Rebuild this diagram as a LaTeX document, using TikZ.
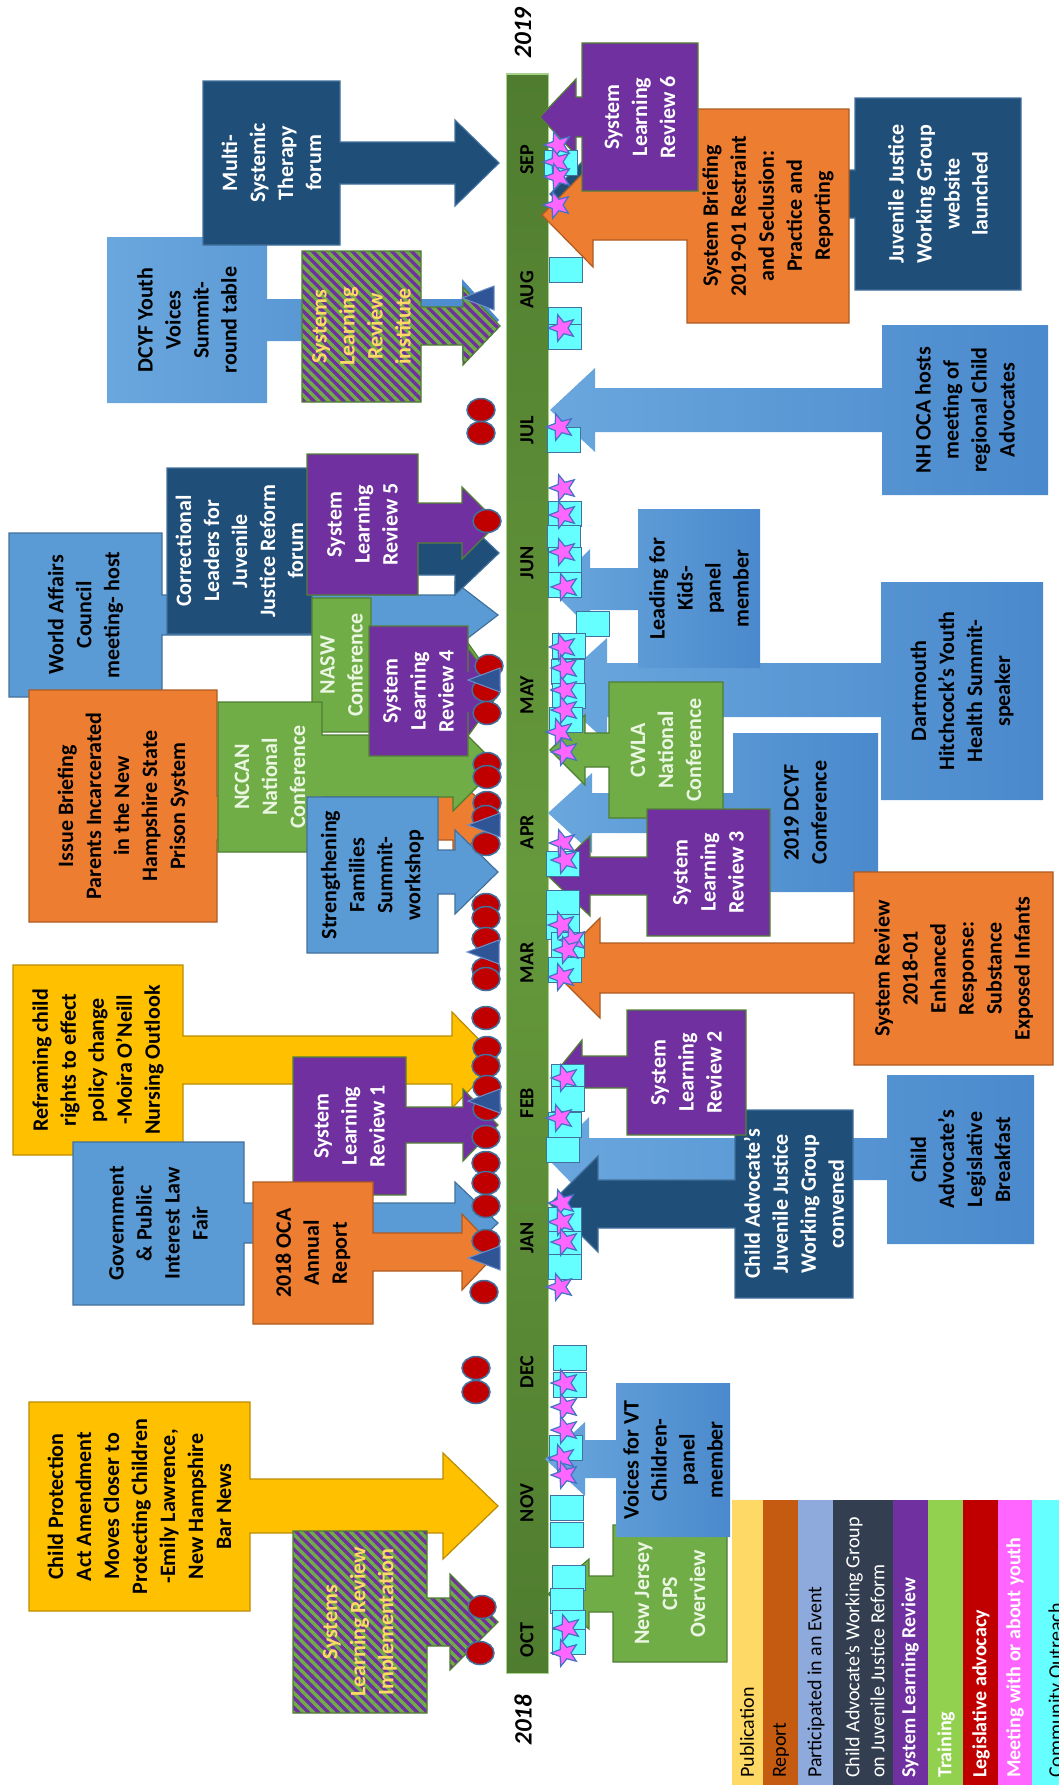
\documentclass[tikz,border=0pt]{standalone}
\usepackage{fontspec}
\setmainfont{Carlito}
\usetikzlibrary{patterns.meta}
\definecolor{cDkb}{HTML}{1F4E79}\definecolor{cDkbB}{HTML}{41719C}
\definecolor{cLtb}{HTML}{5B9BD5}\definecolor{cLtbB}{HTML}{41719C}
\definecolor{cLtgL}{HTML}{6AA7DE}\definecolor{cLtgR}{HTML}{4A89CC}
\definecolor{cPur}{HTML}{7030A0}\definecolor{cPurB}{HTML}{548235}
\definecolor{cGrn}{HTML}{70AD47}\definecolor{cGrnB}{HTML}{507E32}\definecolor{cGrnT}{HTML}{EAF6E2}
\definecolor{cOrg}{HTML}{ED7D31}\definecolor{cOrgB}{HTML}{AE5A21}
\definecolor{cYel}{HTML}{FFC000}\definecolor{cYelB}{HTML}{BC8C00}
\definecolor{cHatT}{HTML}{FFD966}
\definecolor{cBarA}{HTML}{4F7C2F}\definecolor{cBarB}{HTML}{66993C}\definecolor{cBarE}{HTML}{A9D18E}
\definecolor{cPub}{HTML}{FFD966}\definecolor{cRep}{HTML}{C55A11}\definecolor{cPar}{HTML}{8EA9DB}
\definecolor{cCaw}{HTML}{333F50}\definecolor{cTrn}{HTML}{92D050}\definecolor{cLeg}{HTML}{C00000}
\definecolor{cMty}{HTML}{FF66FF}\definecolor{cCy}{HTML}{66FFFF}
\definecolor{cMkB}{HTML}{41719C}\definecolor{cStB}{HTML}{4472C4}
\definecolor{cTri}{HTML}{2F5597}\definecolor{cTriB}{HTML}{6F8FC9}

\newcommand\ARset[5]{\def\ayc{#1}\def\ash{#2}\def\axb{#3}\def\ahh{#4}\def\axt{#5}}
\newcommand\CalR[7]{%
  \path[#1] (#2,#3) -- (#4,#3) -- (#4,\ayc-\ash) -- (\axb,\ayc-\ash) -- (\axb,\ayc-\ahh) -- (\axt,\ayc) -- (\axb,\ayc+\ahh) -- (\axb,\ayc+\ash) -- (#4,\ayc+\ash) -- (#4,#5) -- (#2,#5) -- cycle;
  \node[txt,#1-t] (#6) at ({(#2+#4)/2},{(#3+#5)/2}) {#7};}
\newcommand\CalL[7]{%
  \path[#1] (#2,#3) -- (#4,#3) -- (#4,#5) -- (#2,#5) -- (#2,\ayc+\ash) -- (\axb,\ayc+\ash) -- (\axb,\ayc+\ahh) -- (\axt,\ayc) -- (\axb,\ayc-\ahh) -- (\axb,\ayc-\ash) -- (#2,\ayc-\ash) -- cycle;
  \node[txt,#1-t] (#6) at ({(#2+#4)/2},{(#3+#5)/2}) {#7};}
\newcommand\mkSq[2]{\filldraw[mksq] (#1-16.5,#2-12.5) rectangle (#1+16.5,#2+12.5);}
\newcommand\mkSt[2]{\filldraw[mkst,shift={(#1,#2)}] (180:14) -- (216:6) -- (252:14) -- (288:6) -- (324:14) -- (0:6) -- (36:14) -- (72:6) -- (108:14) -- (144:6) -- cycle;}
\newcommand\mkEl[2]{\filldraw[mkel] (#1,#2) ellipse [x radius=14, y radius=11.5];}
\newcommand\mkTri[2]{\filldraw[mktri] (#1,#2) -- (#1+32,#2-12) -- (#1+32,#2+12) -- cycle;}

\begin{document}
\begin{tikzpicture}[x=1pt,y=-1pt,
  txt/.style={rotate=90,align=center,inner sep=0pt,font=\fontsize{22}{28}\selectfont\bfseries},
  sDkb/.style={fill=cDkb,draw=cDkbB,line width=1.2pt}, sDkb-t/.style={text=white},
  sLtb/.style={fill=cLtb,draw=cLtbB,line width=1.2pt}, sLtb-t/.style={text=black},
  sLtg/.style={left color=cLtgL,right color=cLtgR}, sLtg-t/.style={text=black},
  sPur/.style={fill=cPur,draw=cPurB,line width=1.2pt}, sPur-t/.style={text=white},
  sGrn/.style={fill=cGrn,draw=cGrnB,line width=1.2pt}, sGrn-t/.style={text=cGrnT},
  sOrg/.style={fill=cOrg,draw=cOrgB,line width=1.2pt}, sOrg-t/.style={text=black},
  sYel/.style={fill=cYel,draw=cYelB,line width=1.2pt}, sYel-t/.style={text=black},
  sHat/.style={preaction={fill=cPur},pattern={Lines[angle=-45,distance=7pt,line width=3.4pt]},pattern color=cGrn,draw=cGrnB,line width=1.2pt},
  sHat-t/.style={text=cHatT},
  mksq/.style={fill=cCy,draw=cMkB,line width=1.3pt},
  mkst/.style={fill=cMty,draw=cStB,line width=1.2pt},
  mkel/.style={fill=cLeg,draw=cMkB,line width=1.5pt},
  mktri/.style={fill=cTri,draw=cTriB,line width=1pt},
  mon/.style={rotate=90,inner sep=0pt,font=\fontsize{20}{24}\selectfont\bfseries},
  yr/.style={rotate=90,inner sep=0pt,font=\fontsize{25}{30}\selectfont\bfseries\itshape},
  leg/.style={rotate=90,anchor=west,align=left,inner sep=0pt,font=\fontsize{20}{25}\selectfont}]
\useasboundingbox (0,0) rectangle (1059,1785);
\clip (0,0) rectangle (1059,1785);

% timeline bar
\node[draw=cBarE,line width=1pt,top color=cBarA,bottom color=cBarA,middle color=cBarB,
      minimum width=42pt,minimum height=1599pt,inner sep=0pt] (bar) at (527,873.5) {};

% ---------- left side callouts ----------
\ARset{320}{21}{462}{41}{499}\CalR{sLtg}{107}{237}{267}{403}{dcyf}{DCYF Youth\\Voices\\Summit-\\round table}
\ARset{163}{21}{455}{43}{499}\CalR{sDkb}{203}{81}{340}{245}{mst}{Multi-\\Systemic\\Therapy\\forum}
\ARset{326}{19}{463}{39}{500}\CalR{sHat}{302}{251}{421}{402}{slri}{Systems\\Learning\\Review\\institute}
\ARset{615}{20}{455}{33}{498}\CalR{sLtb}{9}{533}{162}{697}{wac}{World Affairs\\Council\\meeting- host}
\ARset{818}{22}{453}{42}{500}\CalR{sOrg}{29}{690}{217}{922}{ib}{Issue Briefing\\Parents Incarcerated\\in the New\\Hampshire State\\Prison System}
\ARset{553}{22}{455}{42}{499}\CalR{sDkb}{167}{468}{312}{634}{clj}{Correctional\\Leaders for\\Juvenile\\Justice Reform\\forum}
\ARset{688}{18}{468}{45}{500}\CalR{sGrn}{312}{598}{371}{732}{nasw}{NASW\\Conference}
\ARset{766}{31}{453}{45}{498}\CalR{sGrn}{218}{702}{322}{852}{nccan}{NCCAN\\National\\Conference}
\ARset{872}{22}{455}{42}{498}\CalR{sLtb}{307}{797}{438}{953}{sfs}{Strengthening\\Families\\Summit-\\workshop}
\ARset{523}{20}{462}{36}{498}\CalR{sPur}{307}{454}{418}{595}{slr5}{System\\Learning\\Review 5}
\ARset{692}{20}{468}{44}{500}\CalR{sPur}{369}{626}{468}{756}{slr4}{System\\Learning\\Review 4}
\ARset{1060}{24}{452}{48}{499}\CalR{sYel}{13}{965}{183}{1155}{rcr}{Reframing child\\rights to effect\\policy change\\-Moira O’Neill\\Nursing Outlook}
\ARset{1125}{18}{463}{36}{498}\CalR{sPur}{293}{1057}{406}{1195}{slr1}{System\\Learning\\Review 1}
\ARset{1223}{20}{455}{41}{498}\CalR{sLtb}{73}{1142}{244}{1305}{gov}{Government\\\& Public\\Interest Law\\Fair}
\ARset{1252}{19}{462}{38}{498}\CalR{sOrg}{253}{1182}{373}{1324}{oca}{2018 OCA\\Annual\\Report}
\ARset{1506}{27}{443}{53}{498}\CalR{sYel}{29}{1402}{250}{1611}{cpa}{Child Protection\\Act Amendment\\Moves Closer to\\Protecting Children\\-Emily Lawrence,\\New Hampshire\\Bar News}
\ARset{1622}{24}{450}{48}{498}\CalR{sHat}{293}{1531}{427}{1713}{slrimp}{Systems\\Learning Review\\Implementation}

% ---------- right side callouts ----------
\ARset{194}{24}{590}{40}{550}\CalL{sDkb}{855}{98}{1021}{290}{jjweb}{Juvenile Justice\\Working Group\\website\\launched}
\ARset{215}{25}{593}{52}{542}\CalL{sOrg}{687}{109}{849}{323}{sb}{System Briefing\\2019-01 Restraint\\and Seclusion:\\Practice and\\Reporting}
\ARset{117}{20}{576}{38}{540}\CalL{sPur}{582}{43}{698}{191}{slr6}{System\\Learning\\Review 6}
\ARset{410}{22}{595}{42}{550}\CalL{sLtg}{882}{325}{1048}{495}{nhoca}{NH OCA hosts\\meeting of\\regional Child\\Advocates}
\ARset{690}{27}{607}{52}{550}\CalL{sLtg}{881}{582}{1043}{800}{dhys}{Dartmouth\\Hitchcock’s Youth\\Health Summit-\\speaker}
\ARset{589}{21}{590}{40}{550}\CalL{sLtg}{638}{509}{760}{668}{lfk}{Leading for\\Kids-\\panel\\member}
\ARset{813}{20}{592}{40}{548}\CalL{sLtg}{733}{733}{878}{892}{dcyfc}{2019 DCYF\\Conference}
\ARset{750}{17}{585}{35}{550}\CalL{sGrn}{609}{682}{723}{818}{cwla}{CWLA\\National\\Conference}
\ARset{876}{19}{590}{40}{548}\CalL{sPur}{647}{809}{770}{936}{slr3}{System\\Learning\\Review 3}
\ARset{968}{25}{600}{50}{550}\CalL{sOrg}{854}{872}{1053}{1065}{sr}{System Review\\2018-01\\Enhanced\\Response:\\Substance\\Exposed Infants}
\ARset{1159}{21}{589}{42}{548}\CalL{sLtg}{887}{1075}{1034}{1244}{clb}{Child\\Advocate’s\\Legislative\\Breakfast}
\ARset{1204}{24}{598}{48}{550}\CalL{sDkb}{735}{1110}{853}{1298}{jjwg}{Child Advocate’s\\Juvenile Justice\\Working Group\\convened}
\ARset{1072}{16}{582}{32}{556}\CalL{sPur}{627}{1010}{746}{1135}{slr2}{System\\Learning\\Review 2}
\ARset{1594}{18}{589}{35}{548}\CalL{sGrn}{613}{1525}{727}{1662}{njcps}{New Jersey\\CPS\\Overview}
\ARset{1459}{19}{585}{37}{545}\CalL{sLtg}{616}{1383}{730}{1537}{vvt}{Voices for VT\\Children-\\panel\\member}

% ---------- markers: community outreach squares ----------
\foreach \x/\y in {561/163,566/270,565/320,565/337,564/440,565/514,564/538,565/560,565/585,593/624,
  569/646,568/672,569/696,566/720,563/864,563/903,563/927,568/945,565/970,568/1077,568/1099,565/1125,563/1150,
  565/1220,565/1244,565/1267,570/1358,570/1385,566/1448,567/1508,567/1535,569/1578,567/1601,569/1623,569/1642}
  {\mkSq{\x}{\y}}
% meeting with youth stars
\foreach \x/\y in {558/145,557/162,558/177,557/205,562/328,560/427,563/488,563/515,563/552,565/587,
  563/647,565/668,565/690,565/710,560/732,565/752,563/843,565/860,562/925,573/940,567/950,562/977,
  565/1078,560/1118,562/1203,562/1222,565/1242,560/1287,565/1383,565/1407,565/1430,562/1458,565/1475,567/1628,565/1653}
  {\mkSt{\x}{\y}}
% legislative advocacy ellipses
\foreach \x/\y in {481/410,481/433,487/521,489/666,486/690,487/713,487/764,487/777,487/803,486/817,486/844,
  486/905,486/918,486/939,486/969,486/979,486/1018,487/1048,486/1066,487/1087,487/1109,486/1137,486/1163,486/1183,
  486/1206,486/1241,484/1292,476/1368,476/1392,482/1607,480/1653}
  {\mkEl{\x}{\y}}
% triangles
\foreach \x/\y in {462/298,468/680,468/825,467/952,468/1101,468/1258}
  {\mkTri{\x}{\y}}

% month labels
\node[mon] (mSep) at (527,160) {SEP};
\node[mon] (mAug) at (527,290) {AUG};
\node[mon] (mJul) at (527,430) {JUL};
\node[mon] (mJun) at (527,563) {JUN};
\node[mon] (mMay) at (527,695) {MAY};
\node[mon] (mApr) at (527,832) {APR};
\node[mon] (mMar) at (527,963) {MAR};
\node[mon] (mFeb) at (527,1103) {FEB};
\node[mon] (mJan) at (527,1238) {JAN};
\node[mon] (mDec) at (527,1372) {DEC};
\node[mon] (mNov) at (527,1503) {NOV};
\node[mon] (mOct) at (527,1640) {OCT};
\node[yr] (y2019) at (523,33) {2019};
\node[yr] (y2018) at (523,1720) {2018};

% ---------- legend ----------
\fill[cPub] (732,1500) rectangle (763,1790);
\fill[cRep] (763,1500) rectangle (798,1790);
\fill[cPar] (798,1500) rectangle (833,1790);
\fill[cCaw] (833,1500) rectangle (893,1790);
\fill[cPur] (893,1500) rectangle (928,1790);
\fill[cTrn] (928,1500) rectangle (963,1790);
\fill[cLeg] (963,1500) rectangle (998,1790);
\fill[cMty] (998,1500) rectangle (1032,1790);
\fill[cCy] (1032,1500) rectangle (1070,1790);
\node[leg,text=black] (lPub) at (747,1778) {Publication};
\node[leg,text=black] (lRep) at (781,1778) {Report};
\node[leg,text=black] (lPar) at (816,1778) {Participated in an Event};
\node[leg,text=white] (lCaw) at (865,1778) {Child Advocate’s Working Group\\on Juvenile Justice Reform};
\node[leg,text=white,font=\fontsize{20}{25}\selectfont\bfseries] (lSlr) at (910,1778) {System Learning Review};
\node[leg,text=white,font=\fontsize{20}{25}\selectfont\bfseries] (lTrn) at (946,1778) {Training};
\node[leg,text=white,font=\fontsize{20}{25}\selectfont\bfseries] (lLeg) at (981,1778) {Legislative advocacy};
\node[leg,text=white,font=\fontsize{20}{25}\selectfont\bfseries] (lMty) at (1015,1778) {Meeting with or about youth};
\node[leg,text=black] (lCom) at (1057,1778) {Community Outreach};
\end{tikzpicture}
\end{document}
